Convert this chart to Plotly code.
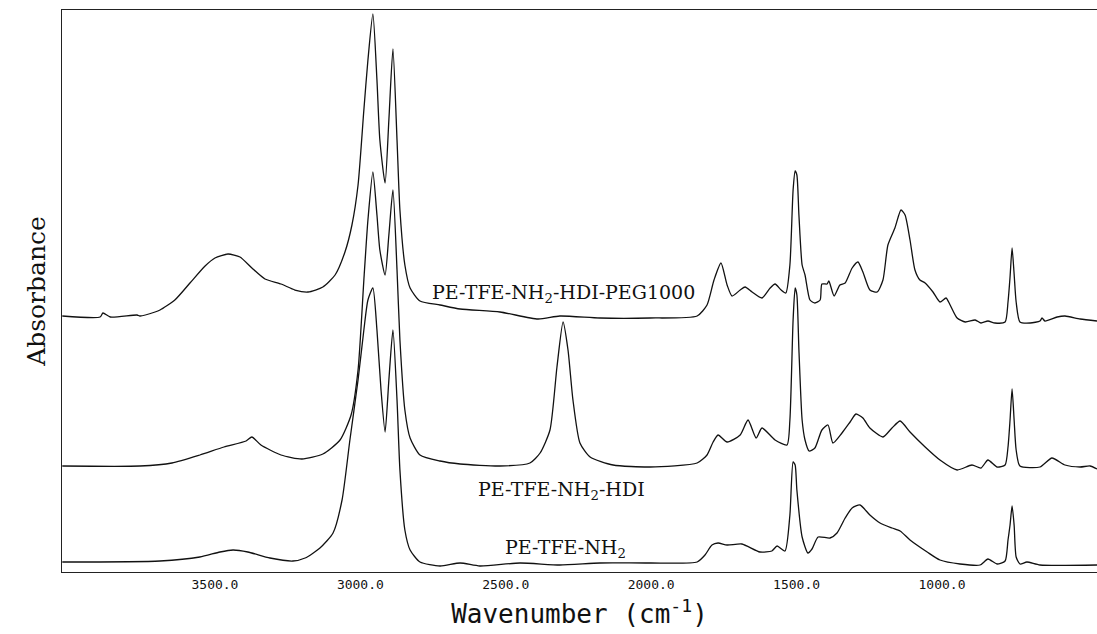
import plotly.graph_objects as go

# ---------------- data (wavenumber cm-1, absorbance in offset units) ----------------
top_wn = [4025, 3895, 3885, 3860, 3768, 3758, 3706, 3689, 3638, 3586, 3534, 3500, 3455, 3414, 3373, 3328,
          3273, 3225, 3180, 3129, 3087, 3053, 3029, 3008, 2988, 2974, 2957, 2943, 2933, 2915, 2902,
          2888, 2874, 2864, 2847, 2829, 2795, 2726, 2657, 2520, 2389, 2314, 2176, 2004, 1842, 1808,
          1784, 1760, 1739, 1722, 1694, 1677, 1653, 1619, 1591, 1574, 1553, 1537, 1523, 1512, 1505,
          1499, 1492, 1481, 1471, 1454, 1437, 1419, 1413, 1395, 1389, 1371, 1351, 1333, 1309, 1289,
          1272, 1248, 1223, 1203, 1186, 1162, 1141, 1127, 1110, 1093, 1076, 1058, 1031, 1007, 986,
          972, 948, 920, 886, 866, 842, 818, 783, 773, 766, 759, 752, 745, 732, 697, 663, 656, 646,
          604, 577, 525, 467]
top_abs = [2.56, 2.55, 2.59, 2.55, 2.57, 2.56, 2.60, 2.62, 2.72, 2.89, 3.06, 3.14, 3.18, 3.15, 3.04, 2.93,
           2.88, 2.82, 2.80, 2.85, 2.97, 3.20, 3.47, 3.87, 4.62, 5.12, 5.58, 4.92, 4.32, 3.89, 4.52,
           5.23, 4.32, 3.62, 3.07, 2.84, 2.71, 2.67, 2.63, 2.60, 2.53, 2.56, 2.54, 2.54, 2.56, 2.67,
           2.92, 3.09, 2.87, 2.76, 2.82, 2.85, 2.80, 2.74, 2.84, 2.88, 2.82, 2.79, 3.07, 3.82, 4.01,
           3.97, 3.57, 3.07, 2.97, 2.72, 2.69, 2.72, 2.88, 2.88, 2.91, 2.76, 2.87, 2.89, 3.04, 3.10,
           3.00, 2.82, 2.80, 2.92, 3.27, 3.44, 3.62, 3.57, 3.32, 3.02, 2.92, 2.89, 2.80, 2.70, 2.74,
           2.67, 2.54, 2.50, 2.52, 2.49, 2.51, 2.49, 2.50, 2.70, 2.95, 3.24, 2.98, 2.70, 2.50, 2.49,
           2.51, 2.54, 2.51, 2.55, 2.56, 2.53, 2.51]

mid_wn = [4025, 3758, 3648, 3552, 3469, 3393, 3373, 3342, 3273, 3201, 3129, 3070, 3032, 3008, 2988, 2974,
          2957, 2943, 2933, 2915, 2902, 2888, 2874, 2864, 2847, 2829, 2795, 2726, 2657, 2520, 2417,
          2382, 2348, 2324, 2303, 2286, 2269, 2245, 2210, 2131, 2004, 1842, 1808, 1787, 1770, 1739,
          1694, 1667, 1639, 1619, 1574, 1533, 1523, 1512, 1505, 1499, 1492, 1481, 1471, 1457, 1437,
          1413, 1392, 1375, 1344, 1316, 1296, 1272, 1248, 1203, 1172, 1144, 1110, 1058, 1007, 948,
          897, 866, 842, 811, 783, 773, 766, 759, 752, 745, 732, 663, 622, 577, 525, 491, 467]
mid_abs = [1.06, 1.06, 1.09, 1.17, 1.25, 1.31, 1.35, 1.27, 1.17, 1.13, 1.18, 1.32, 1.57, 2.02, 2.92, 3.52,
           4.00, 3.57, 3.22, 2.97, 3.37, 3.82, 3.02, 2.32, 1.62, 1.34, 1.17, 1.11, 1.08, 1.06, 1.09,
           1.19, 1.42, 2.05, 2.50, 2.22, 1.72, 1.29, 1.15, 1.07, 1.05, 1.09, 1.17, 1.30, 1.37, 1.30,
           1.37, 1.52, 1.34, 1.44, 1.32, 1.27, 1.52, 2.52, 2.84, 2.77, 2.22, 1.52, 1.32, 1.21, 1.24,
           1.42, 1.47, 1.29, 1.39, 1.50, 1.58, 1.54, 1.44, 1.35, 1.44, 1.51, 1.40, 1.25, 1.12, 1.02,
           1.07, 1.04, 1.12, 1.05, 1.07, 1.25, 1.52, 1.83, 1.52, 1.22, 1.06, 1.05, 1.14, 1.07, 1.05, 1.06, 1.03]

bot_wn = [4025, 3689, 3552, 3483, 3438, 3387, 3311, 3232, 3190, 3139, 3094, 3063, 3036, 3008, 2988, 2974,
          2957, 2943, 2929, 2915, 2902, 2888, 2874, 2864, 2847, 2829, 2795, 2726, 2657, 2589, 2451,
          2314, 2176, 2004, 1842, 1815, 1791, 1770, 1739, 1688, 1626, 1585, 1567, 1540, 1523, 1512,
          1505, 1499, 1481, 1461, 1447, 1426, 1385, 1361, 1333, 1309, 1282, 1248, 1213, 1172, 1144,
          1110, 1051, 1007, 938, 869, 842, 811, 783, 773, 766, 759, 752, 745, 732, 708, 663, 467]
bot_abs = [0.10, 0.11, 0.15, 0.20, 0.22, 0.20, 0.14, 0.11, 0.14, 0.24, 0.39, 0.72, 1.32, 1.92, 2.42, 2.72,
           2.84, 2.42, 1.82, 1.40, 1.92, 2.42, 1.72, 1.02, 0.42, 0.22, 0.10, 0.06, 0.09, 0.06, 0.09,
           0.07, 0.09, 0.09, 0.10, 0.17, 0.27, 0.29, 0.27, 0.28, 0.20, 0.21, 0.26, 0.21, 0.57, 1.10,
           1.07, 0.82, 0.35, 0.19, 0.23, 0.35, 0.34, 0.39, 0.54, 0.64, 0.67, 0.57, 0.49, 0.44, 0.41,
           0.32, 0.20, 0.12, 0.08, 0.07, 0.13, 0.08, 0.11, 0.32, 0.47, 0.66, 0.47, 0.15, 0.08, 0.10, 0.07, 0.07]

series_names = ["PE-TFE-NH<sub>2</sub>-HDI-PEG1000", "PE-TFE-NH<sub>2</sub>-HDI", "PE-TFE-NH<sub>2</sub>"]
label_wn = [2303, 2307, 2296]
label_abs = [2.79, 0.82, 0.24]

tick_vals = [3500, 3000, 2500, 2000, 1500, 1000]
tick_text = ["3500.0", "3000.0", "2500.0", "2000.0", "1500.0", "1000.0"]

# ---------------- figure ----------------
fig = go.Figure()
for xs, ys, nm in [(top_wn, top_abs, series_names[0]),
                   (mid_wn, mid_abs, series_names[1]),
                   (bot_wn, bot_abs, series_names[2])]:
    fig.add_trace(go.Scatter(x=xs, y=ys, mode="lines", name=nm,
                             line=dict(color="#111111", width=1.3, shape="spline", smoothing=0.6),
                             showlegend=False, hoverinfo="x+y"))

for nm, xw, ya in zip(series_names, label_wn, label_abs):
    fig.add_annotation(x=xw, y=ya, xref="x", yref="y", text=nm, showarrow=False,
                       font=dict(family="DejaVu Serif", size=19, color="#111111"))

fig.update_layout(
    width=1097, height=634,
    margin=dict(l=62, r=0, t=10, b=62),
    paper_bgcolor="white", plot_bgcolor="white",
    xaxis=dict(range=[4026, 467], showgrid=False, zeroline=False,
               showline=True, linecolor="#222222", linewidth=1.2, mirror=True,
               ticks="", tickvals=tick_vals, ticktext=tick_text,
               tickfont=dict(family="DejaVu Sans Mono", size=13, color="#111111"),
               title=dict(text="Wavenumber (cm<sup>-1</sup>)", standoff=14,
                          font=dict(family="DejaVu Sans Mono", size=26, color="#111111"))),
    yaxis=dict(range=[0, 5.62], showgrid=False, zeroline=False,
               showline=True, linecolor="#222222", linewidth=1.2, mirror=False,
               showticklabels=False, ticks="",
               title=dict(text="Absorbance", standoff=8,
                          font=dict(family="DejaVu Serif", size=25, color="#111111"))),
)

fig.write_html("out.html")
